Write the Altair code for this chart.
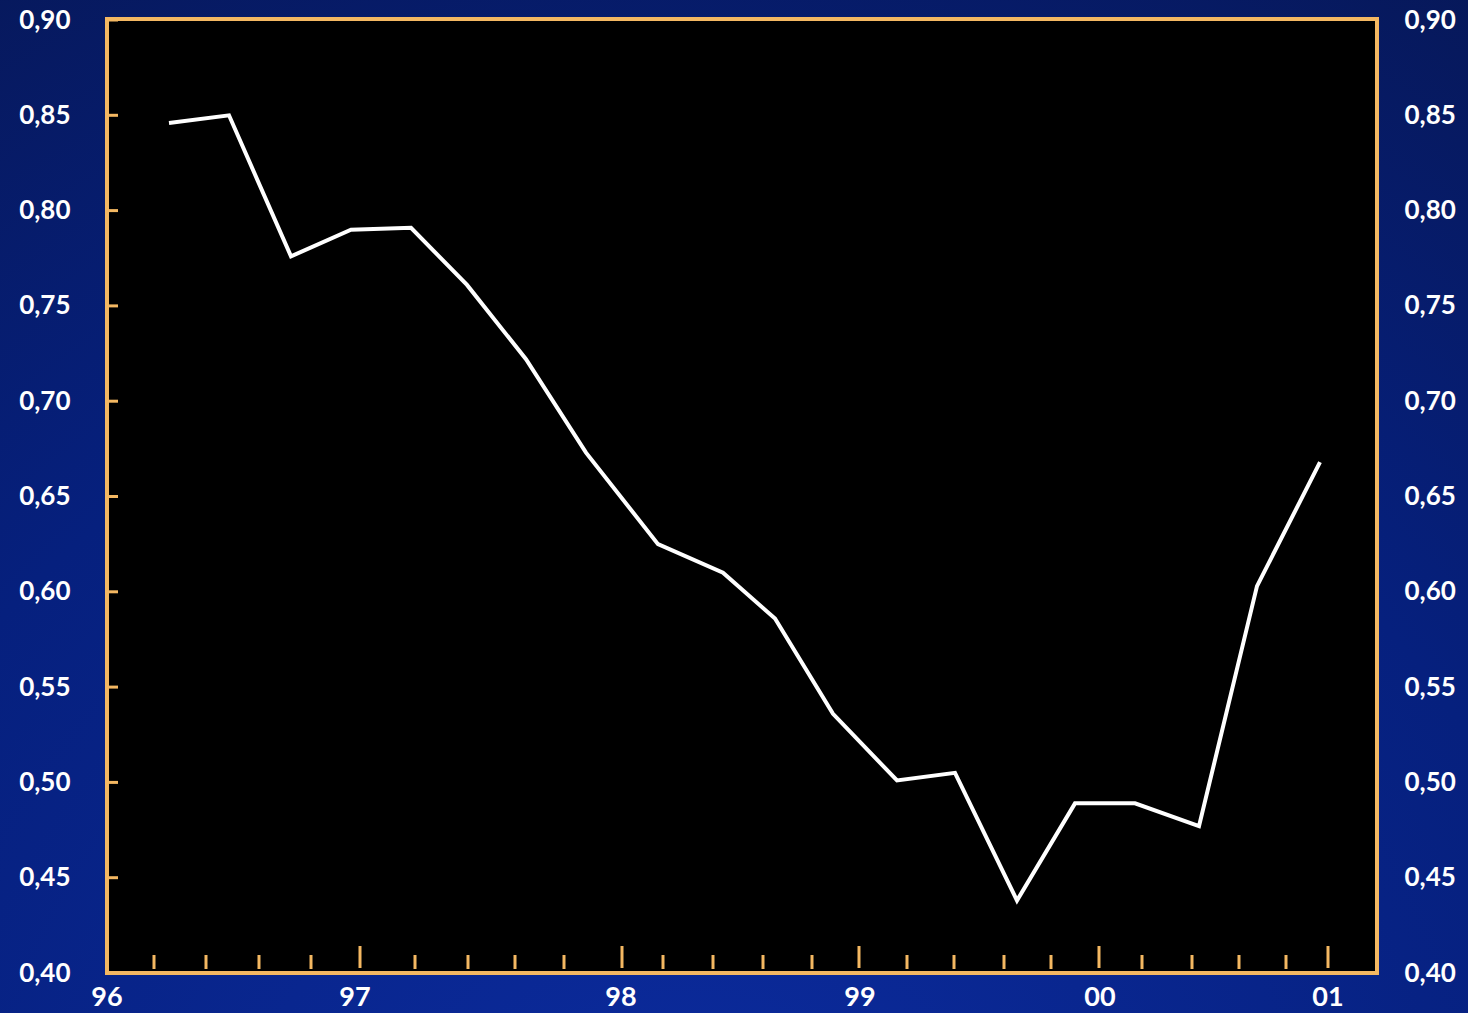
import altair as alt
import pandas as pd

# ---- data (x in fractional-year positions) ----
period = [1996.248, 1996.488, 1996.736, 1996.976, 1997.216, 1997.440, 1997.676,
          1997.916, 1998.204, 1998.464, 1998.672, 1998.904, 1999.160, 1999.392,
          1999.640, 1999.872, 2000.112, 2000.368, 2000.600, 2000.852]
ratio = [0.846, 0.850, 0.776, 0.790, 0.791, 0.761, 0.722,
         0.673, 0.625, 0.610, 0.586, 0.536, 0.501, 0.505,
         0.438, 0.489, 0.489, 0.477, 0.603, 0.668]

minor_ticks = [1996.188, 1996.396, 1996.608, 1996.816, 1997.232, 1997.444, 1997.632,
               1997.828, 1998.224, 1998.424, 1998.624, 1998.820, 1999.200, 1999.388,
               1999.588, 1999.776, 2000.140, 2000.340, 2000.528, 2000.716]
major_ticks = [1997.012, 1998.060, 1999.008, 1999.968, 2000.884]
year_label_pos = [1996.0, 1996.992, 1998.056, 1999.012, 1999.972, 2000.884]
year_labels = ["96", "97", "98", "99", "00", "01"]
y_ticks = [0.40, 0.45, 0.50, 0.55, 0.60, 0.65, 0.70, 0.75, 0.80, 0.85, 0.90]

ORANGE = "#F4B862"
W, H = 1270, 953
FONT = "Lato"

df = pd.DataFrame({"period": period, "ratio": ratio})
minor_df = pd.DataFrame({"t": minor_ticks})
major_df = pd.DataFrame({"t": major_ticks})
lab_df = pd.DataFrame({"pos": year_label_pos, "lab": year_labels})
yt_df = pd.DataFrame({"v": y_ticks})
one = pd.DataFrame({"a": [0]})

xscale = alt.Scale(domain=[1996.0, 2001.08], nice=False, zero=False)
yscale = alt.Scale(domain=[0.40, 0.90], nice=False, zero=False)

axis_common = dict(values=y_ticks, format=".2f", labelExpr="replace(datum.label, '.', ',')",
                   domain=False, ticks=False, grid=False, title=None, zindex=1,
                   labelFont=FONT, labelFontSize=26, labelFontWeight="bold",
                   labelColor="white", labelBaseline="middle")

bg = alt.Chart(one).mark_rect(
    fill=alt.RadialGradient(
        gradient="radial",
        stops=[alt.GradientStop(offset=0, color="#0c2ca0"),
               alt.GradientStop(offset=0.55, color="#06207e"),
               alt.GradientStop(offset=1, color="#07154c")],
        x1=0.47, y1=1.0, r1=0, x2=0.47, y2=1.0, r2=1.15)
).encode(x=alt.value(-107), x2=alt.value(1361), y=alt.value(-20), y2=alt.value(993))

plot_bg = alt.Chart(one).mark_rect(fill="black", stroke=ORANGE, strokeWidth=4).encode(
    x=alt.value(0), x2=alt.value(W), y=alt.value(-1), y2=alt.value(H))

minor = alt.Chart(minor_df).mark_rule(color=ORANGE, strokeWidth=3).encode(
    x=alt.X("t:Q", scale=xscale, axis=None), y=alt.value(H - 4), y2=alt.value(H - 18))
major = alt.Chart(major_df).mark_rule(color=ORANGE, strokeWidth=3).encode(
    x=alt.X("t:Q", scale=xscale, axis=None), y=alt.value(H - 5), y2=alt.value(H - 27))

yticks = alt.Chart(yt_df).mark_rule(color=ORANGE, strokeWidth=3).encode(
    y=alt.Y("v:Q", scale=yscale,
            axis=alt.Axis(orient="right", labelPadding=27, labelAlign="left", **axis_common)),
    x=alt.value(0), x2=alt.value(11))

line = alt.Chart(df).mark_line(color="white", strokeWidth=4, strokeJoin="miter").encode(
    x=alt.X("period:Q", scale=xscale, axis=None),
    y=alt.Y("ratio:Q", scale=yscale,
            axis=alt.Axis(orient="left", labelPadding=37, labelAlign="right", **axis_common)))

xlabels = alt.Chart(lab_df).mark_text(
    font=FONT, fontSize=27, fontWeight="bold", color="white", baseline="middle", align="center"
).encode(x=alt.X("pos:Q", scale=xscale, axis=None), y=alt.value(H + 25), text="lab:N")

chart = alt.layer(bg, plot_bg, minor, major, yticks, line, xlabels).resolve_axis(
    y="independent"
).properties(
    width=W, height=H,
    padding={"left": 107, "top": 20, "right": 91, "bottom": 40},
    autosize=alt.AutoSizeParams(type="none"),
    background="#07185c",
).configure_view(strokeWidth=0)

chart.save("out.html", embed_options={"renderer": "svg", "actions": False})
